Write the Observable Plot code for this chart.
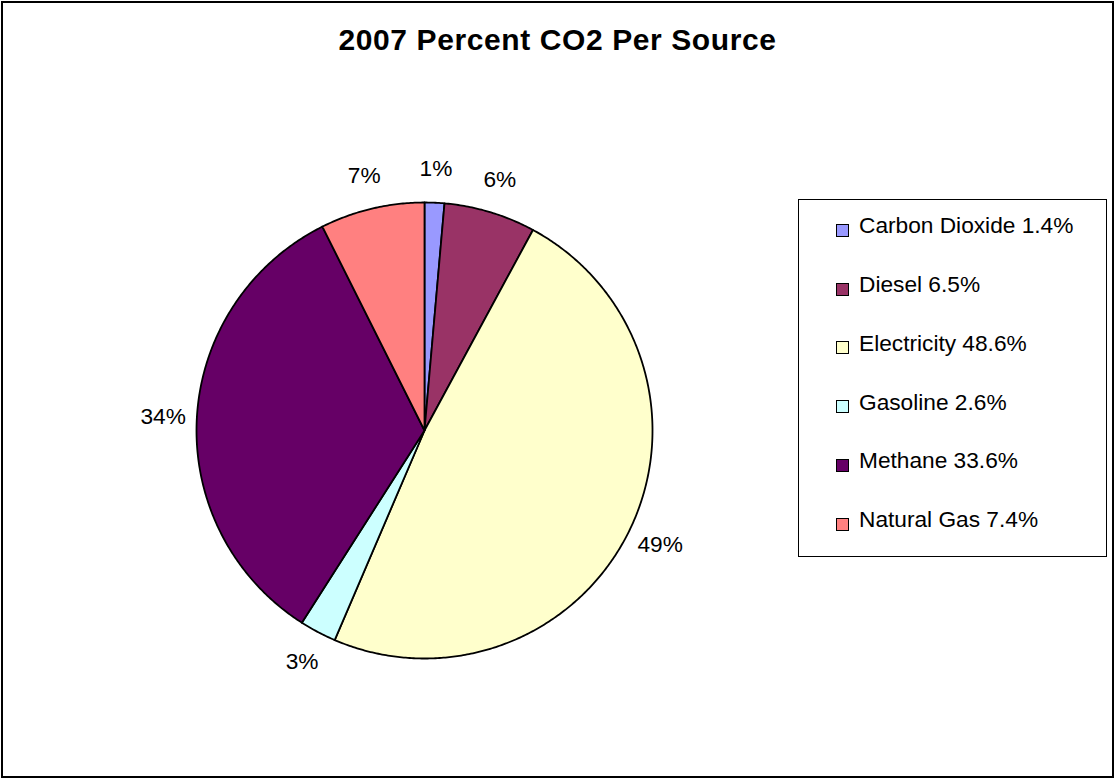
<!DOCTYPE html>
<html><head><meta charset="utf-8">
<script src="https://cdn.jsdelivr.net/npm/d3@7"></script>
<script src="https://cdn.jsdelivr.net/npm/@observablehq/plot@0.6"></script>
<style>
body{margin:0;background:#fff;font-family:"Liberation Sans",Arial,sans-serif;}
#wrap{position:relative;width:1115px;height:779px;overflow:hidden;background:#fff;}
#frame{position:absolute;left:1px;top:1px;width:1113px;height:777px;border:2px solid #000;box-sizing:border-box;}
#title{position:absolute;left:0;top:25px;width:1115px;text-align:center;font-weight:bold;font-size:30px;line-height:30px;letter-spacing:0.6px;color:#000;}
#chart{position:absolute;left:0;top:0;}
#legend{position:absolute;left:798px;top:199px;width:309px;height:358px;border:1.5px solid #000;box-sizing:border-box;}
.row{position:absolute;left:859px;font-size:22.7px;line-height:26px;white-space:nowrap;color:#000;}
.sw{position:absolute;left:836px;width:13px;height:13px;border:1.5px solid #000;box-sizing:border-box;}
</style>
</head><body>
<div id="wrap">
  <div id="chart"></div>
  <div id="legend"></div>
  <div id="title">2007 Percent CO2 Per Source</div>
  <div id="frame"></div>
</div>
<script>
const categories = ["Carbon Dioxide","Diesel","Electricity","Gasoline","Methane","Natural Gas"];
const values = [1.4, 6.5, 48.6, 2.6, 33.6, 7.4];
const pieLabels = ["1%","6%","49%","3%","34%","7%"];
const colors = ["#9999FF","#993366","#FFFFCC","#CCFFFF","#660066","#FF8080"];

const arcs = d3.pie().sort(null).value(d => d)(values);
const pts = [];
arcs.forEach((a, i) => {
  const cat = categories[i];
  pts.push({cat, x: 0, y: 0});
  const n = Math.max(2, Math.ceil((a.endAngle - a.startAngle) / (Math.PI / 360)));
  for (let k = 0; k <= n; k++) {
    const t = a.startAngle + (a.endAngle - a.startAngle) * k / n;
    pts.push({cat, x: Math.sin(t), y: Math.cos(t)});
  }
});
const labelR = 1.148;
const labelData = arcs.map((a, i) => {
  const m = (a.startAngle + a.endAngle) / 2;
  return {text: pieLabels[i], x: labelR * Math.sin(m), y: labelR * Math.cos(m)};
});

const chart = Plot.plot({
  width: 1115, height: 779,
  marginLeft: 196, marginRight: 463, marginTop: 202, marginBottom: 121,
  x: {domain: [-1, 1], axis: null},
  y: {domain: [-1, 1], axis: null},
  color: {domain: categories, range: colors},
  style: {background: "transparent", overflow: "visible", fontFamily: "Liberation Sans, Arial, sans-serif"},
  marks: [
    Plot.line(pts, {x: "x", y: "y", z: "cat", fill: "cat", stroke: "#000", strokeWidth: 1.8, curve: "linear-closed", strokeLinejoin: "round"}),
    Plot.text(labelData, {x: "x", y: "y", text: "text", fontSize: 22.7, fill: "#000"})
  ]
});
document.getElementById("chart").appendChild(chart);

const wrap = document.getElementById("wrap");
categories.forEach((c, i) => {
  const baseline = 233.3 + i * 58.7;
  const row = document.createElement("div");
  row.className = "row";
  row.style.top = (baseline - 20.86) + "px";
  row.textContent = `${c} ${values[i].toFixed(1)}%`;
  wrap.appendChild(row);
  const sw = document.createElement("div");
  sw.className = "sw";
  sw.style.top = (224 + i * 58.7) + "px";
  sw.style.background = colors[i];
  wrap.appendChild(sw);
});
</script>
</body></html>
